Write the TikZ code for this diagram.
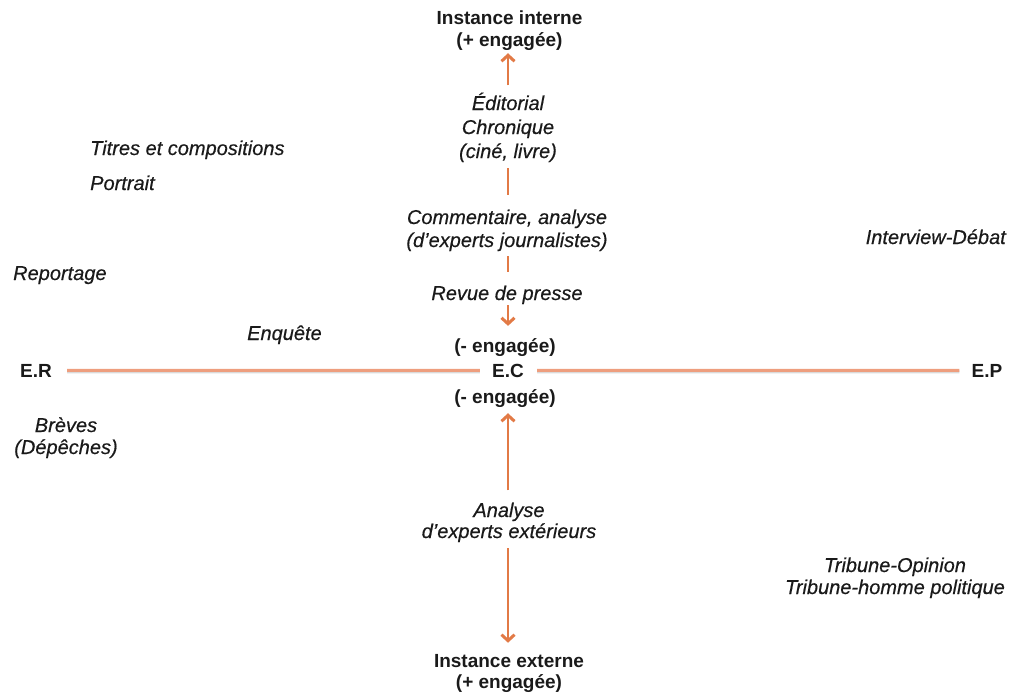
\documentclass[tikz,border=0pt]{standalone}
\usepackage{fontspec}
\setmainfont{Liberation Sans}
\newfontfamily\meditfont{Liberation Sans Italic}[FakeBold=0.45]
\usetikzlibrary{arrows.meta}
\definecolor{arr}{RGB}{226,122,70}
\definecolor{axiscol}{RGB}{238,158,126}
\definecolor{shadowcol}{RGB}{218,218,218}
\definecolor{txt}{RGB}{26,26,26}
\begin{document}
\begin{tikzpicture}[x=1pt,y=-1pt,
  lab/.style={inner sep=0pt, align=center, text=txt, font=\fontsize{19}{22}\selectfont\bfseries},
  it/.style={inner sep=0pt, align=center, text=txt, font=\fontsize{20}{23}\selectfont\meditfont},
  arrline/.style={draw=arr, line width=2pt},
  tipped/.style={-{Straight Barb[length=6pt,width=13pt,line width=3pt 0]}},
  axisline/.style={draw=axiscol, line width=3pt},
  axisshadow/.style={draw=shadowcol, line width=3pt}]
\useasboundingbox (0,0) rectangle (1015,693);

% central column
\node[lab, anchor=base] (inst) at (509.5,47) {Instance interne\\(+ engagée)};
\node[it, anchor=base, font=\fontsize{20}{24}\selectfont\meditfont] (edit) at (508,158) {Éditorial\\Chronique\\(ciné, livre)};
\node[it, anchor=base] (comm) at (507,247) {Commentaire, analyse\\(d’experts journalistes)};
\node[it, anchor=base] (revue) at (507,300) {Revue de presse};
\node[lab, anchor=base] (engA) at (505,352) {(- engagée)};
\node[lab, anchor=base] (ec) at (508,377) {E.C};
\node[lab, anchor=base] (engB) at (505,403) {(- engagée)};
\node[it, anchor=base, font=\fontsize{20}{21}\selectfont\meditfont] (anal) at (509,538) {Analyse\\d’experts extérieurs};
\node[lab, anchor=base, font=\fontsize{19}{21}\selectfont\bfseries] (ext) at (509,688) {Instance externe\\(+ engagée)};

% axis ends
\node[lab, anchor=base] (er) at (36,377) {E.R};
\node[lab, anchor=base] (ep) at (987,377) {E.P};

% genre labels
\node[it, anchor=base west] (titres) at (90,155) {Titres et compositions};
\node[it, anchor=base west] (portrait) at (90,190) {Portrait};
\node[it, anchor=base west] (reportage) at (13,280) {Reportage};
\node[it, anchor=base west] (enquete) at (247,340) {Enquête};
\node[it, anchor=base, font=\fontsize{20}{22}\selectfont\meditfont] (breves) at (66,454) {Brèves\\(Dépêches)};
\node[it, anchor=base east] (interview) at (1006,244) {Interview-Débat};
\node[it, anchor=base, font=\fontsize{20}{22}\selectfont\meditfont] (tribune) at (895,594) {Tribune-Opinion\\Tribune-homme politique};

% horizontal axis
\draw[axisshadow, shorten <=15pt, shorten >=12pt, transform canvas={yshift=-1.5pt}] (er) -- (ec);
\draw[axisshadow, shorten <=13pt, shorten >=12pt, transform canvas={yshift=-1.5pt}] (ec) -- (ep);
\draw[axisline, shorten <=15pt, shorten >=12pt] (er) -- (ec);
\draw[axisline, shorten <=13pt, shorten >=12pt] (ec) -- (ep);

% vertical chain (upper)
\draw[arrline, tipped, shorten <=7pt, shorten >=2pt] (edit.north) -- (edit.north |- inst.south);
\draw[arrline, shorten <=6pt, shorten >=14pt] (edit.south) -- (edit.south |- comm.north);
\draw[arrline, shorten <=5pt, shorten >=13pt] (comm.south -| edit.south) -- (edit.south |- revue.north);
\draw[arrline, tipped, shorten <=1pt, shorten >=12pt] (revue.south -| edit.south) -- (edit.south |- engA.north);

% vertical chain (lower)
\draw[arrline, tipped, shorten <=12pt, shorten >=6pt] (anal.north -| edit.south) -- (edit.south |- engB.south);
\draw[arrline, tipped, shorten <=6pt, shorten >=11pt] (anal.south -| edit.south) -- (edit.south |- ext.north);
\end{tikzpicture}
\end{document}
